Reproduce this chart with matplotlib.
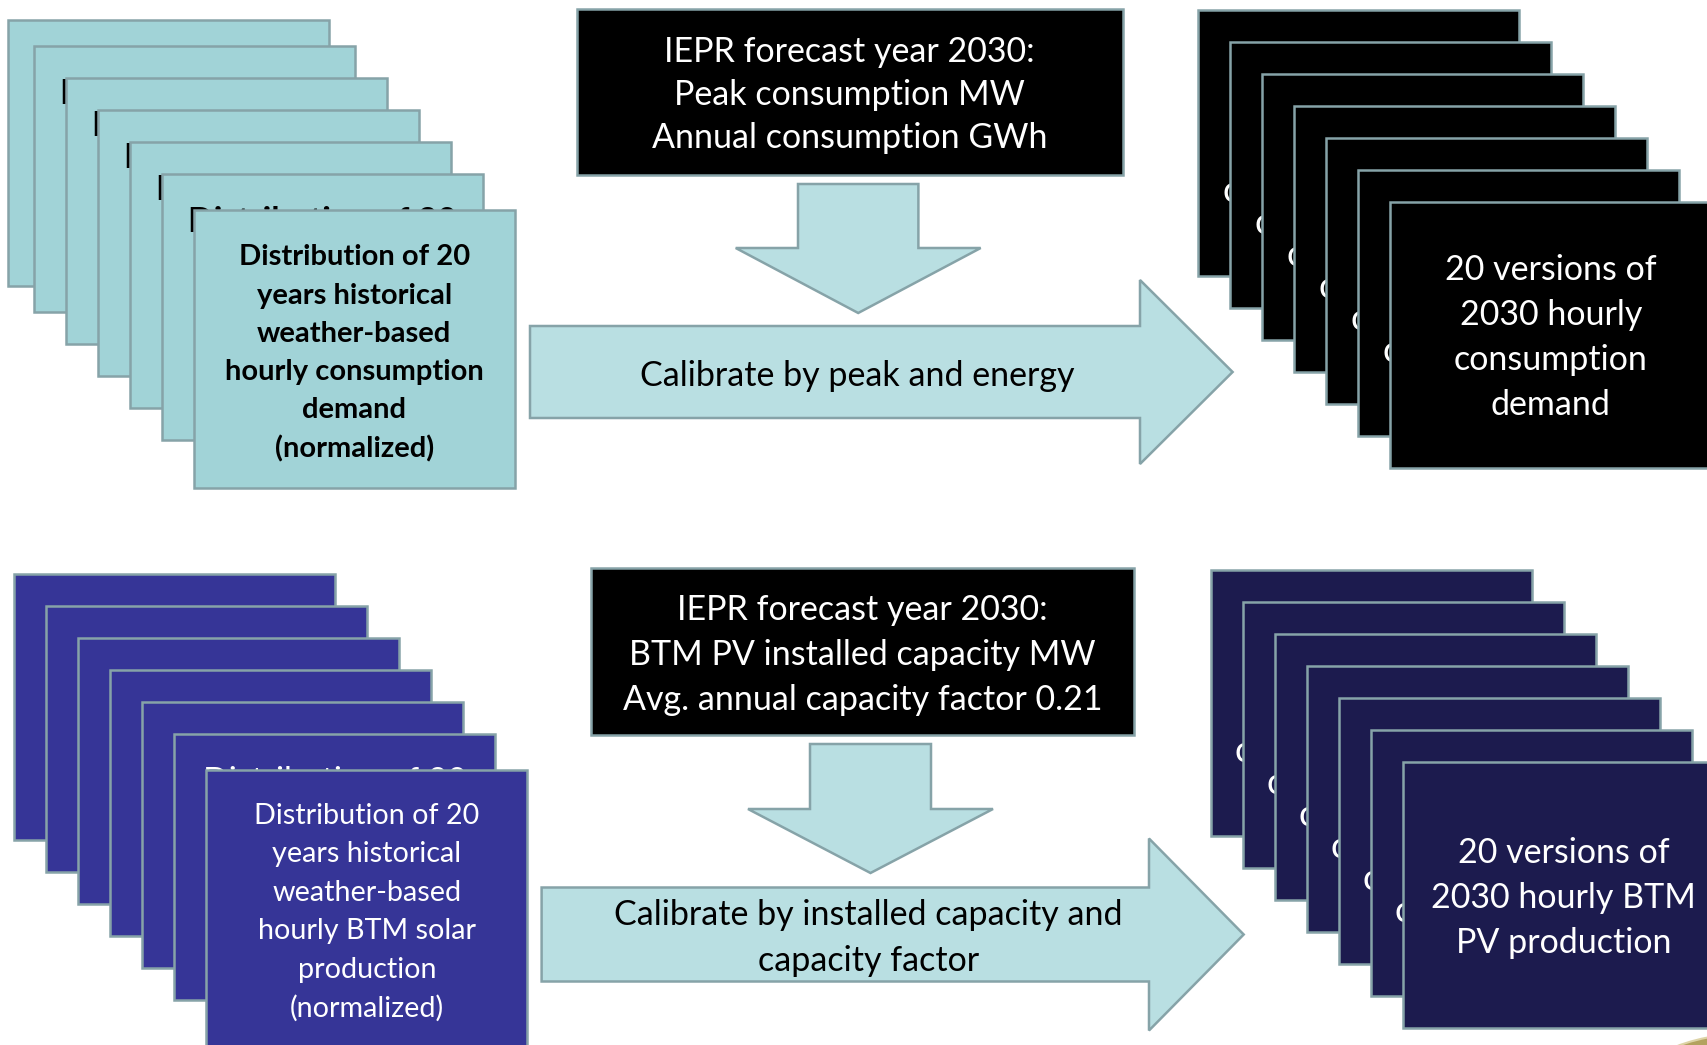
import matplotlib.pyplot as plt
from matplotlib.patches import Rectangle, Polygon, Ellipse

plt.rcParams["font.family"] = ["Lato", "DejaVu Sans"]

# ---- diagram texts ----
DEMAND_LINES = ["Distribution of 20", "years historical", "weather-based",
                "hourly consumption", "demand", "(normalized)"]
SOLAR_LINES = ["Distribution of 20", "years historical", "weather-based",
               "hourly BTM solar", "production", "(normalized)"]
IEPR_DEMAND = ["IEPR forecast year 2030:", "Peak consumption MW",
               "Annual consumption GWh"]
IEPR_SOLAR = ["IEPR forecast year 2030:", "BTM PV installed capacity MW",
              "Avg. annual capacity factor 0.21"]
CALIB_DEMAND = ["Calibrate by peak and energy"]
CALIB_SOLAR = ["Calibrate by installed capacity and", "capacity factor"]
OUT_DEMAND = ["20 versions of", "2030 hourly", "consumption", "demand"]
OUT_SOLAR = ["20 versions of", "2030 hourly BTM", "PV production"]
N_CARDS = 7

# ---- styles ----
TEAL_CARD = "#a1d3d7"
ARROW_FILL = "#b9dfe2"
EDGE = "#86a3a8"
SOLAR_CARD = "#363597"
SOLAR_OUT = "#1c1b4e"
CARD_W = 321
CARD_H = 266

W_PX, H_PX = 1708, 1045


def text_block(ax, lines, cx, cy, pitch, **kw):
    n = len(lines)
    for i, s in enumerate(lines):
        ax.text(cx, cy + (i - (n - 1) / 2) * pitch, s, ha="center", va="center", **kw)


def draw_stack(ax, x0, y0, steps, front_h, face, lines, color, weight, fs,
               pitch, text_dy, back_mode, back_text, back_fs):
    pos = [(x0, y0)]
    for dx, dy in steps[: N_CARDS - 1]:
        pos.append((pos[-1][0] + dx, pos[-1][1] + dy))
    last = len(pos) - 1
    for i, (x, y) in enumerate(pos):
        h = front_h if i == last else CARD_H
        card = Rectangle((x, y), CARD_W, h, facecolor=face, edgecolor=EDGE,
                         lw=1.8, zorder=10 + 2 * i)
        ax.add_patch(card)
        if i == last:
            text_block(ax, lines, x + CARD_W / 2, y + text_dy, pitch, color=color,
                       fontsize=fs, fontweight=weight, zorder=11 + 2 * i)
            continue
        # text of the cards behind, mostly hidden by the next card
        if back_mode == "top":
            t = ax.text(x + CARD_W / 2, y + 58, back_text, ha="center",
                        va="baseline", color=color, fontsize=back_fs,
                        fontweight=weight, zorder=11 + 2 * i)
        else:
            t = ax.text(x + 24, y + 181, back_text, ha="left", va="center",
                        color=color, fontsize=back_fs, fontweight=weight,
                        zorder=11 + 2 * i)
        t.set_clip_path(card)


def right_arrow(ax, x0, x_head, x_tip, y_mid, body_half, head_half):
    pts = [(x0, y_mid - body_half), (x_head, y_mid - body_half),
           (x_head, y_mid - head_half), (x_tip, y_mid),
           (x_head, y_mid + head_half), (x_head, y_mid + body_half),
           (x0, y_mid + body_half)]
    ax.add_patch(Polygon(pts, closed=True, facecolor=ARROW_FILL, edgecolor=EDGE,
                         lw=1.8, zorder=5))


def down_arrow(ax, x_mid, shaft_half, y_top, y_wing, wing_half, y_tip):
    pts = [(x_mid - shaft_half, y_top), (x_mid + shaft_half, y_top),
           (x_mid + shaft_half, y_wing), (x_mid + wing_half, y_wing),
           (x_mid, y_tip), (x_mid - wing_half, y_wing),
           (x_mid - shaft_half, y_wing)]
    ax.add_patch(Polygon(pts, closed=True, facecolor=ARROW_FILL, edgecolor=EDGE,
                         lw=1.8, zorder=5))


def black_box(ax, x, y, w, h, lines, cy, pitch):
    ax.add_patch(Rectangle((x, y), w, h, facecolor="black", edgecolor=EDGE,
                           lw=1.8, zorder=5))
    text_block(ax, lines, x + w / 2, cy, pitch, color="white", fontsize=24.5,
               zorder=6)


def run():
    fig = plt.figure(figsize=(W_PX / 100, H_PX / 100), dpi=100)
    ax = fig.add_axes([0, 0, 1, 1])
    ax.set_xlim(0, W_PX)
    ax.set_ylim(H_PX, 0)
    ax.axis("off")

    # ==============================
    # demand row
    # ==============================
    draw_stack(ax, 8.3, 20, [(25.5, 26)] + [(32, 32)] * 4 + [(32, 36)], 278,
               TEAL_CARD, DEMAND_LINES, "black", "bold", 21, 38.3, 143,
               "top", DEMAND_LINES[0], 24.4)
    black_box(ax, 577, 9.3, 545.6, 165.7, IEPR_DEMAND, 95, 43)
    down_arrow(ax, 858.2, 60.2, 184, 248, 122.5, 313)
    right_arrow(ax, 530, 1140, 1232.6, 372, 46, 92)
    text_block(ax, CALIB_DEMAND, 857.5, 376, 46, color="black", fontsize=24.5,
               zorder=6)
    draw_stack(ax, 1198.3, 10, [(32, 32)] * 6, 266, "black", OUT_DEMAND,
               "white", "normal", 24.5, 45, 135.5, "left", OUT_DEMAND[2], 26)

    # ==============================
    # BTM solar row
    # ==============================
    draw_stack(ax, 14.3, 574, [(32, 32)] * 5 + [(32, 36)], 300,
               SOLAR_CARD, SOLAR_LINES, "white", "normal", 20.7, 38.4, 142,
               "top", SOLAR_LINES[0], 24.3)
    black_box(ax, 591, 568.3, 543.5, 166.7, IEPR_SOLAR, 655, 44.7)
    down_arrow(ax, 870.5, 60.5, 744, 809, 122.5, 873)
    right_arrow(ax, 541.6, 1149, 1243.7, 934.5, 47, 96)
    text_block(ax, CALIB_SOLAR, 868.7, 938, 46, color="black", fontsize=24.5,
               zorder=6)
    draw_stack(ax, 1211, 570, [(32, 32)] * 6, 266, SOLAR_OUT, OUT_SOLAR,
               "white", "normal", 24.5, 45, 136, "left", OUT_DEMAND[2], 26)

    # piece of a logo cut by the bottom right corner
    ax.add_patch(Ellipse((1755, 1093), 250, 120, facecolor="#b3a25e",
                         edgecolor="#ddd3a6", lw=1.5, zorder=1))

    fig.savefig("out.png", dpi=100)
    plt.close(fig)


if __name__ == "__main__":
    run()
